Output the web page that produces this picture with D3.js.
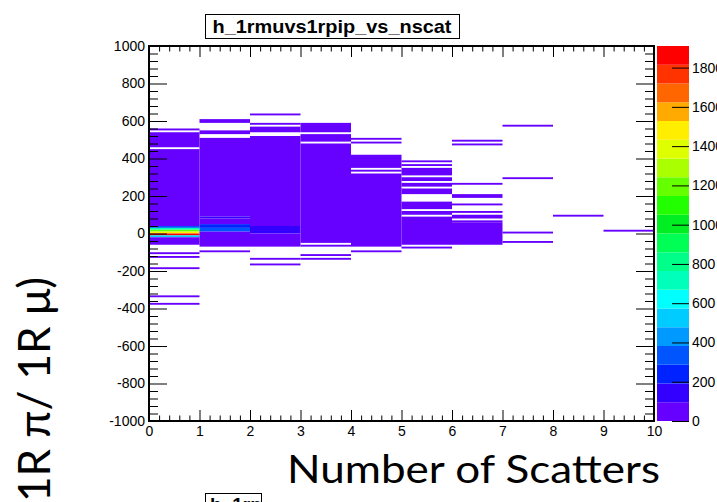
<!DOCTYPE html>
<html>
<head>
<meta charset="utf-8">
<script src="https://cdn.jsdelivr.net/npm/d3@7"></script>
<style>
  html, body { margin: 0; padding: 0; background: #fff; }
  svg { display: block; }
</style>
</head>
<body>
<svg id="chart" width="717" height="502"></svg>
<script>
// ---------------- data ----------------
const histTitle = "h_1rmuvs1rpip_vs_nscat";
const xAxisTitle = "Number of Scatters";
const yAxisTitle = "1R \u03c0/ 1R \u03bc)";
const xTickLabels = ["0","1","2","3","4","5","6","7","8","9","10"];
const yTickLabels = ["-1000","-800","-600","-400","-200","0","200","400","600","800","1000"];
const zTickLabels = ["0","200","400","600","800","1000","1200","1400","1600","1800"];
const zMax = 1910;
const paletteColors = ["#6600ff","#3300ff","#0022ff","#0055ff","#0099ff","#00ccff","#00ffff","#00ffbb","#00ff88","#00ff55",
                       "#00ee22","#22ff00","#66ff00","#aaff00","#ddff00","#ffee00","#ffaa00","#ff6600","#ff3300","#ff0000"];
// nscat bin low edges
const nscatBins = [0,1,2,3,4,5,6,7,8,9];
// per nscat bin: [yLow, yHigh, entries]
const col0 = [[550,560,15],[460,540,25],[40,450,40],[30,40,380],[20,30,720],[10,20,1150],[0,10,1500],[-10,0,1850],[-20,-10,480],[-60,-20,40],[-110,-100,10],[-130,-120,10],[-190,-180,10],[-340,-330,10],[-380,-370,10]];
const col1 = [[590,610,15],[530,550,15],[90,510,40],[80,90,150],[50,80,40],[30,50,230],[10,30,320],[-70,10,40],[-100,-90,10]];
const col2 = [[630,640,10],[580,590,10],[540,570,15],[40,520,40],[0,40,130],[-70,0,40],[-140,-130,10],[-170,-160,10]];
const col3 = [[540,590,15],[490,530,20],[-50,480,35],[-70,-60,10],[-120,-110,10],[-140,-130,10]];
const col4 = [[500,510,10],[480,490,10],[350,420,20],[330,340,15],[-70,320,30],[-100,-90,10]];
const col5 = [[380,390,10],[360,370,10],[310,350,15],[280,300,15],[250,270,15],[210,240,15],[130,170,20],[100,120,20],[-60,90,25],[-80,-70,10]];
const col6 = [[490,500,5],[470,480,5],[260,270,5],[190,210,8],[150,160,5],[110,120,5],[80,100,8],[60,70,5],[-60,60,15]];
const col7 = [[570,580,2],[290,300,2],[0,10,3],[-50,-40,2]];
const col8 = [[90,100,1]];
const col9 = [[10,20,1]];
const columns = [col0,col1,col2,col3,col4,col5,col6,col7,col8,col9];

// ---------------- drawing ----------------
const svg = d3.select("#chart");
const L = 149, R = 654, T = 46, B = 421;
const x = d3.scaleLinear().domain([0, 10]).range([L, R]);
const y = d3.scaleLinear().domain([-1000, 1000]).range([B, T]);
const color = d3.scaleQuantize().domain([0, zMax]).range(paletteColors);
const z = d3.scaleLinear().domain([0, zMax]).range([B, T]);

// cells
const cells = [];
columns.forEach((col, i) => col.forEach(s => cells.push({x0: nscatBins[i], x1: nscatBins[i] + 1, y0: s[0], y1: s[1], v: s[2]})));
svg.append("g").selectAll("rect").data(cells).join("rect")
  .attr("x", d => x(d.x0))
  .attr("width", d => x(d.x1) - x(d.x0))
  .attr("y", d => y(d.y1))
  .attr("height", d => y(d.y0) - y(d.y1))
  .attr("fill", d => color(d.v));

const font = "'Liberation Sans', Arial, Helvetica, sans-serif";

// ticks helper
function styleAxis(g) {
  g.select(".domain").remove();
  g.selectAll("line").attr("stroke", "#000").attr("stroke-width", 1);
  g.selectAll("text").attr("font-family", font).attr("font-size", 14).attr("fill", "#000");
}
const yMajor = yTickLabels.map(Number);
const yMinor = d3.range(-1000, 1001, 40).filter(v => v % 200 !== 0);
const xMajor = xTickLabels.map(Number);
const xMinor = d3.range(0, 50).map(k => k / 5).filter(v => Math.abs(v - Math.round(v)) > 1e-6);

svg.append("g").attr("transform", `translate(${L},0)`)
  .call(d3.axisLeft(y).tickValues(yMajor).tickSize(-18).tickPadding(4).tickFormat((d, i) => yTickLabels[i]))
  .call(styleAxis);
svg.append("g").attr("transform", `translate(${L},0)`)
  .call(d3.axisLeft(y).tickValues(yMinor).tickSize(-9).tickFormat(""))
  .call(styleAxis);
svg.append("g").attr("transform", `translate(${R},0)`)
  .call(d3.axisRight(y).tickValues(yMajor).tickSize(-18).tickFormat(""))
  .call(styleAxis);
svg.append("g").attr("transform", `translate(${R},0)`)
  .call(d3.axisRight(y).tickValues(yMinor).tickSize(-9).tickFormat(""))
  .call(styleAxis);
svg.append("g").attr("transform", `translate(0,${B})`)
  .call(d3.axisBottom(x).tickValues(xMajor).tickSize(-11).tickPadding(5).tickFormat((d, i) => xTickLabels[i]))
  .call(styleAxis);
svg.append("g").attr("transform", `translate(0,${B})`)
  .call(d3.axisBottom(x).tickValues(xMinor).tickSize(-5.5).tickFormat(""))
  .call(styleAxis);
svg.append("g").attr("transform", `translate(0,${T})`)
  .call(d3.axisTop(x).tickValues(xMajor).tickSize(-11).tickFormat(""))
  .call(styleAxis);
svg.append("g").attr("transform", `translate(0,${T})`)
  .call(d3.axisTop(x).tickValues(xMinor).tickSize(-5.5).tickFormat(""))
  .call(styleAxis);

// frame
svg.append("rect").attr("x", L).attr("y", T).attr("width", R - L).attr("height", B - T)
  .attr("fill", "none").attr("stroke", "#000").attr("stroke-width", 2);

// palette
const PL = 657, PR = 689;
svg.append("g").selectAll("rect").data(paletteColors).join("rect")
  .attr("x", PL).attr("width", PR - PL)
  .attr("y", c => z(color.invertExtent(c)[1]))
  .attr("height", c => z(color.invertExtent(c)[0]) - z(color.invertExtent(c)[1]))
  .attr("fill", c => c);
svg.append("g").attr("transform", `translate(${PR},0)`)
  .call(d3.axisRight(z).tickValues(zTickLabels.map(Number)).tickSize(-17).tickPadding(3).tickFormat((d, i) => zTickLabels[i]))
  .call(styleAxis);

// title box
svg.append("rect").attr("x", 205.5).attr("y", 14.5).attr("width", 254).attr("height", 24)
  .attr("fill", "#fff").attr("stroke", "#000").attr("stroke-width", 1);
svg.append("text").attr("x", 332).attr("y", 33).attr("text-anchor", "middle")
  .attr("font-family", font).attr("font-weight", "bold").attr("font-size", 19)
  .attr("textLength", 239).attr("lengthAdjust", "spacingAndGlyphs")
  .text(histTitle);

// axis titles
svg.append("text").attr("x", 287).attr("y", 483)
  .attr("font-family", "Lato, 'Open Sans', sans-serif").attr("font-size", 38)
  .attr("textLength", 373).attr("lengthAdjust", "spacingAndGlyphs")
  .text(xAxisTitle);
svg.append("text").attr("transform", "translate(50,277) rotate(-90)").attr("text-anchor", "end")
  .attr("font-family", "Lato, 'Open Sans', sans-serif").attr("font-size", 44)
  .text(yAxisTitle);

// lower (cropped) title box
const clip = svg.append("clipPath").attr("id", "lowbox");
clip.append("rect").attr("x", 205.5).attr("y", 493.5).attr("width", 56).attr("height", 30);
svg.append("rect").attr("x", 205.5).attr("y", 493.5).attr("width", 56).attr("height", 30)
  .attr("fill", "#fff").attr("stroke", "#000").attr("stroke-width", 1);
svg.append("text").attr("x", 210).attr("y", 511).attr("clip-path", "url(#lowbox)")
  .attr("font-family", font).attr("font-weight", "bold").attr("font-size", 19)
  .text(histTitle);
</script>
</body>
</html>
